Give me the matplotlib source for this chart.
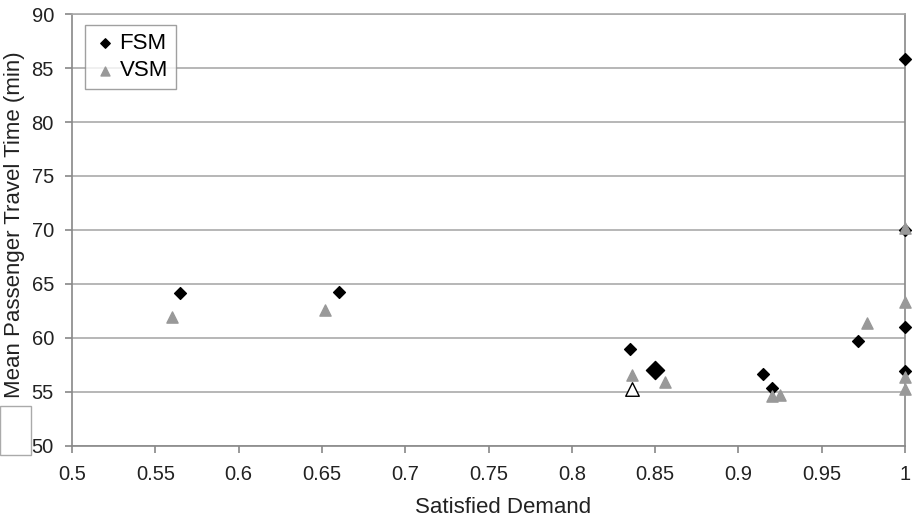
import matplotlib
matplotlib.use('Agg')
import matplotlib.pyplot as plt
import matplotlib.patches as patches

plt.rcParams['font.family'] = ['Liberation Sans', 'DejaVu Sans']

# FSM points (satisfied demand, mean travel time)
fsm_x = [0.565, 0.660, 0.835, 0.915, 0.920, 0.972, 1.0, 1.0, 1.0, 1.0]
fsm_y = [64.2, 64.3, 59.0, 56.7, 55.4, 59.7, 85.8, 70.0, 61.0, 56.9]
# highlighted FSM point
fsm_big_x = [0.850]
fsm_big_y = [57.0]

# VSM points
vsm_x = [0.560, 0.652, 0.836, 0.856, 0.920, 0.925, 0.977, 1.0, 1.0, 1.0, 1.0]
vsm_y = [61.9, 62.6, 56.6, 55.9, 54.6, 54.7, 61.4, 70.2, 63.3, 56.4, 55.3]
# hollow VSM point
vsm_open_x = [0.836]
vsm_open_y = [55.3]

xticks = [0.5, 0.55, 0.6, 0.65, 0.7, 0.75, 0.8, 0.85, 0.9, 0.95, 1.0]
xlabels = ['0.5', '0.55', '0.6', '0.65', '0.7', '0.75', '0.8', '0.85', '0.9', '0.95', '1']
yticks = [50, 55, 60, 65, 70, 75, 80, 85, 90]

fig = plt.figure(figsize=(9.13, 5.19), dpi=100)
ax = fig.add_axes([0.0789, 0.1407, 0.9123, 0.8323])

gray = '#999999'
ax.scatter(fsm_x, fsm_y, marker='D', s=36, color='black', zorder=3, label='FSM', clip_on=False)
ax.scatter(fsm_big_x, fsm_big_y, marker='D', s=85, color='black', zorder=3, clip_on=False)
ax.scatter(vsm_x, vsm_y, marker='^', s=65, color=gray, zorder=3, label='VSM', clip_on=False)
ax.scatter(vsm_open_x, vsm_open_y, marker='^', s=95, facecolor='white', edgecolor='black',
           linewidth=1, zorder=3, clip_on=False)

ax.set_xlim(0.5, 1.0)
ax.set_ylim(50, 90)
ax.set_xticks(xticks)
ax.set_xticklabels(xlabels)
ax.set_yticks(yticks)
ax.yaxis.grid(True, color='#aaaaaa', linewidth=1.2)
ax.set_axisbelow(True)

for side in ['left', 'right', 'top', 'bottom']:
    ax.spines[side].set_color('#888888')
    ax.spines[side].set_linewidth(1.2)
ax.spines['top'].set_color('#aaaaaa')
ax.tick_params(axis='both', colors='#888888', labelcolor='#222222', labelsize=14.5,
               length=5, width=1.2, direction='out')
ax.tick_params(axis='x', pad=9)
ax.tick_params(axis='y', pad=8)

ax.set_xlabel('Satisfied Demand', fontsize=16, color='#222222')
ax.xaxis.set_label_coords(0.517, -0.118)
ax.set_ylabel('Mean Passenger Travel Time (min)', fontsize=16, color='#222222')
ax.yaxis.set_label_coords(-0.057, 0.513)

leg = ax.legend(loc='upper left', bbox_to_anchor=(0.0156, 0.9745), fontsize=16,
                frameon=True, fancybox=False, handletextpad=0.1, borderpad=0.35,
                labelspacing=0.3, handlelength=1.1, markerscale=0.8, borderaxespad=0)
leg.get_frame().set_edgecolor('#888888')
leg.get_frame().set_linewidth(1.0)

# leftover white box at the lower left
box = patches.Rectangle((0.0, 519 - 455), 31, 49, transform=None,
                        facecolor='white', edgecolor='#aaaaaa', linewidth=1, zorder=5)
fig.patches.append(box)

fig.savefig('out.png', dpi=100)
